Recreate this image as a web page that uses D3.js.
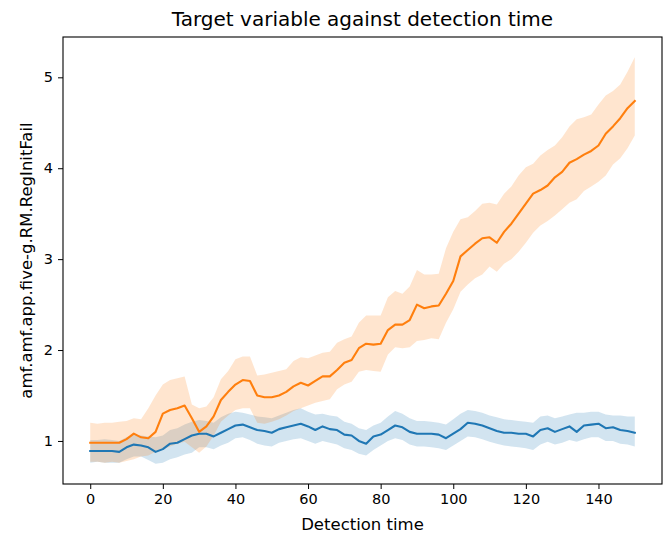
<!DOCTYPE html>
<html>
<head>
<meta charset="utf-8">
<script src="https://cdn.jsdelivr.net/npm/d3@7"></script>
<style>
  body { margin: 0; background: #fff; }
  text { font-family: "DejaVu Sans", sans-serif; fill: #000; }
</style>
</head>
<body>
<script>
// detection time, every 2 units
var times = d3.range(0, 151, 2);

var xTicks = [0, 20, 40, 60, 80, 100, 120, 140];
var yTicks = [1, 2, 3, 4, 5];

// series 0 (blue)
var blueMean = [0.89,0.89,0.89,0.89,0.88,0.93,0.96,0.95,0.93,0.88,0.91,0.97,0.98,1.02,1.06,1.08,1.08,1.05,1.09,1.13,
  1.17,1.18,1.15,1.12,1.11,1.09,1.13,1.15,1.17,1.19,1.16,1.12,1.16,1.13,1.12,1.07,1.06,1.00,0.97,1.05,
  1.07,1.12,1.17,1.15,1.10,1.08,1.08,1.08,1.07,1.03,1.08,1.13,1.20,1.19,1.17,1.14,1.11,1.09,1.09,1.08,
  1.08,1.05,1.12,1.14,1.10,1.13,1.16,1.10,1.17,1.18,1.19,1.14,1.15,1.12,1.11,1.09];
var blueHigh = [1.01,1.01,1.02,1.01,1.00,1.04,1.07,1.06,1.05,1.04,1.06,1.12,1.14,1.18,1.21,1.23,1.22,1.20,1.26,1.30,
  1.32,1.31,1.29,1.27,1.26,1.25,1.28,1.31,1.34,1.36,1.32,1.29,1.30,1.28,1.27,1.21,1.19,1.14,1.12,1.17,
  1.20,1.27,1.33,1.30,1.25,1.22,1.22,1.21,1.20,1.18,1.24,1.30,1.34,1.33,1.31,1.28,1.26,1.24,1.23,1.22,
  1.21,1.20,1.27,1.28,1.25,1.27,1.29,1.31,1.31,1.32,1.32,1.29,1.28,1.28,1.27,1.27];
var blueLow = [0.76,0.77,0.76,0.76,0.76,0.80,0.83,0.83,0.79,0.75,0.76,0.80,0.82,0.85,0.87,0.93,0.93,0.91,0.95,0.98,
  1.03,1.04,1.01,0.97,0.95,0.94,0.98,1.00,1.02,1.03,1.00,0.97,1.00,0.98,0.96,0.92,0.90,0.86,0.84,0.90,
  0.95,1.00,1.03,1.01,0.96,0.94,0.94,0.93,0.92,0.90,0.95,1.00,1.05,1.04,1.02,0.99,0.97,0.95,0.94,0.93,
  0.92,0.90,0.96,0.99,0.96,0.98,1.01,0.99,1.02,1.04,1.04,1.00,1.00,0.97,0.96,0.94];

// series 1 (orange)
var orangeMean = [0.98,0.98,0.98,0.98,0.98,1.02,1.08,1.04,1.03,1.10,1.30,1.34,1.36,1.39,1.25,1.10,1.16,1.27,1.45,1.54,
  1.62,1.67,1.66,1.50,1.48,1.48,1.50,1.54,1.60,1.64,1.61,1.66,1.71,1.71,1.78,1.86,1.89,2.02,2.07,2.06,
  2.07,2.22,2.28,2.28,2.33,2.50,2.46,2.48,2.49,2.62,2.76,3.03,3.10,3.17,3.23,3.24,3.18,3.30,3.39,3.50,
  3.61,3.72,3.76,3.81,3.90,3.96,4.06,4.10,4.15,4.19,4.25,4.38,4.46,4.55,4.66,4.74];
var orangeHigh = [1.20,1.19,1.20,1.20,1.21,1.22,1.25,1.24,1.36,1.50,1.62,1.67,1.69,1.71,1.40,1.36,1.38,1.48,1.68,1.77,
  1.90,1.93,1.93,1.72,1.73,1.75,1.77,1.79,1.88,1.92,1.91,1.94,1.97,1.98,2.08,2.12,2.15,2.30,2.38,2.38,
  2.38,2.58,2.65,2.62,2.70,2.88,2.83,2.83,2.84,3.12,3.30,3.44,3.46,3.53,3.61,3.62,3.60,3.72,3.80,3.92,
  4.01,4.05,4.14,4.20,4.25,4.34,4.46,4.54,4.56,4.59,4.70,4.80,4.85,4.92,5.06,5.22];
var orangeLow = [0.77,0.77,0.76,0.77,0.76,0.78,0.80,0.83,0.84,0.88,0.91,0.94,0.97,0.99,0.93,0.87,0.94,1.06,1.21,1.28,
  1.34,1.36,1.36,1.20,1.19,1.21,1.24,1.28,1.33,1.36,1.39,1.42,1.44,1.46,1.57,1.62,1.65,1.76,1.78,1.77,
  1.76,1.95,2.03,2.02,2.03,2.10,2.11,2.13,2.12,2.30,2.45,2.64,2.72,2.79,2.83,2.92,2.86,2.95,3.00,3.08,
  3.18,3.29,3.37,3.42,3.48,3.55,3.62,3.66,3.75,3.80,3.85,3.92,4.04,4.11,4.22,4.36];

var series = [
  { color: "#1f77b4", mean: blueMean, low: blueLow, high: blueHigh },
  { color: "#ff7f0e", mean: orangeMean, low: orangeLow, high: orangeHigh }
];

var W = 667, H = 537;
var margin = { left: 63, right: 5, top: 37, bottom: 53 };

var svg = d3.select("body").append("svg")
  .attr("width", W)
  .attr("height", H);

// matplotlib style 5% margins
var xExt = d3.extent(times);
var xPad = (xExt[1] - xExt[0]) * 0.05;
var yMin = d3.min(series, function(s) { return d3.min(s.low); });
var yMax = d3.max(series, function(s) { return d3.max(s.high); });
var yPad = (yMax - yMin) * 0.05;

var x = d3.scaleLinear()
  .domain([xExt[0] - xPad, xExt[1] + xPad])
  .range([margin.left, W - margin.right]);
var y = d3.scaleLinear()
  .domain([yMin - yPad, yMax + yPad])
  .range([H - margin.bottom, margin.top]);

var area = function(s) {
  return d3.area()
    .x(function(d, i) { return x(times[i]); })
    .y0(function(d, i) { return y(s.low[i]); })
    .y1(function(d, i) { return y(s.high[i]); });
};
var line = function(s) {
  return d3.line()
    .x(function(d, i) { return x(times[i]); })
    .y(function(d, i) { return y(s.mean[i]); });
};

// bands under lines
series.forEach(function(s) {
  svg.append("path")
    .datum(times)
    .attr("d", area(s))
    .attr("fill", s.color)
    .attr("fill-opacity", 0.2)
    .attr("stroke", "none");
});
series.forEach(function(s) {
  svg.append("path")
    .datum(times)
    .attr("d", line(s))
    .attr("fill", "none")
    .attr("stroke", s.color)
    .attr("stroke-width", 2.1)
    .attr("stroke-linejoin", "round")
    .attr("stroke-linecap", "square");
});

// axes
var xAxis = svg.append("g")
  .attr("transform", "translate(0," + (H - margin.bottom) + ")")
  .call(d3.axisBottom(x).tickValues(xTicks).tickSizeOuter(0).tickSize(5).tickPadding(5));
var yAxis = svg.append("g")
  .attr("transform", "translate(" + margin.left + ",0)")
  .call(d3.axisLeft(y).tickValues(yTicks).tickFormat(d3.format("d")).tickSizeOuter(0).tickSize(5).tickPadding(5));

[xAxis, yAxis].forEach(function(g) {
  g.select(".domain").remove();
  g.selectAll("text").style("font-size", "14.5px").style("font-family", "DejaVu Sans");
  g.selectAll("line").attr("stroke", "#000").attr("stroke-width", 1);
});

// frame
svg.append("rect")
  .attr("x", margin.left)
  .attr("y", margin.top)
  .attr("width", W - margin.right - margin.left)
  .attr("height", H - margin.bottom - margin.top)
  .attr("fill", "none")
  .attr("stroke", "#000")
  .attr("stroke-width", 1.1);

// title and labels
svg.append("text")
  .attr("x", (margin.left + W - margin.right) / 2)
  .attr("y", 26)
  .attr("text-anchor", "middle")
  .style("font-size", "20px")
  .text("Target variable against detection time");

svg.append("text")
  .attr("x", (margin.left + W - margin.right) / 2)
  .attr("y", 530)
  .attr("text-anchor", "middle")
  .style("font-size", "16.5px")
  .text("Detection time");

svg.append("text")
  .attr("transform", "translate(32," + ((margin.top + H - margin.bottom) / 2) + ") rotate(-90)")
  .attr("text-anchor", "middle")
  .style("font-size", "16.5px")
  .text("amf.amf.app.five-g.RM.RegInitFail");
</script>
</body>
</html>
